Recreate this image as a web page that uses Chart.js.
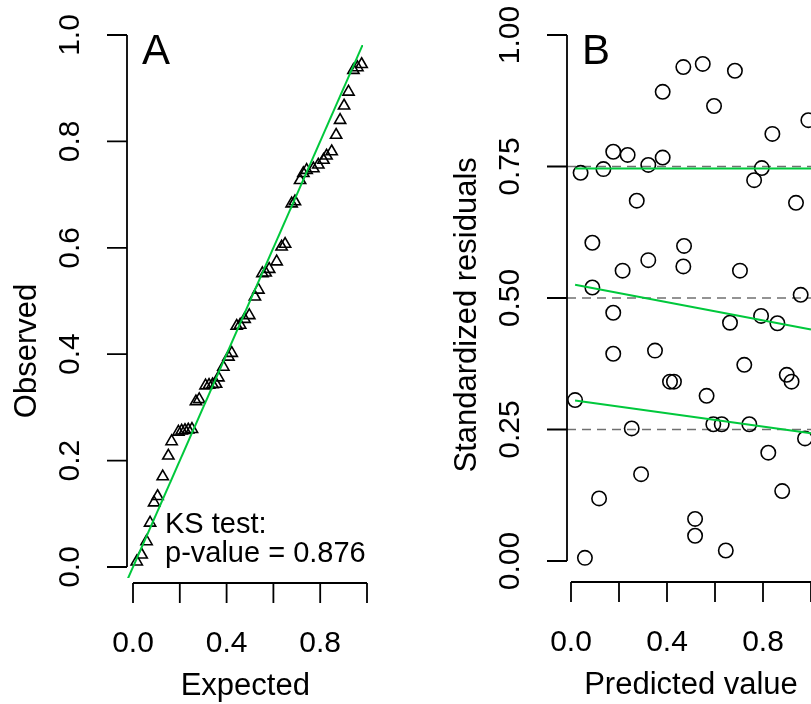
<!DOCTYPE html>
<html>
<head>
<meta charset="utf-8">
<script src="https://cdn.jsdelivr.net/npm/chart.js@4"></script>
<style>
html, body { margin: 0; padding: 0; background: #fff; overflow: hidden; }
#wrap { position: relative; width: 811px; height: 704px; overflow: hidden; }
#chartA { position: absolute; left: 0; top: 0; }
#chartB { position: absolute; left: 440px; top: 0; }
</style>
</head>
<body>
<div id="wrap">
  <canvas id="chartA" width="440" height="704"></canvas>
  <canvas id="chartB" width="400" height="704"></canvas>
</div>
<script>
// Panel A: QQ plot of the scaled residuals
const expected = [0.016,0.037,0.058,0.073,0.090,0.105,0.127,0.151,0.165,0.194,0.208,0.222,0.236,0.252,0.269,0.283,0.310,0.325,0.340,0.355,0.365,0.386,0.408,0.422,0.443,0.458,0.477,0.497,0.521,0.536,0.553,0.567,0.582,0.614,0.635,0.650,0.678,0.692,0.714,0.728,0.742,0.771,0.792,0.814,0.827,0.849,0.868,0.885,0.902,0.921,0.942,0.959,0.977];
const observed = [0.010,0.023,0.048,0.083,0.121,0.133,0.170,0.209,0.236,0.254,0.256,0.257,0.258,0.259,0.311,0.315,0.341,0.342,0.343,0.344,0.356,0.376,0.395,0.402,0.453,0.455,0.466,0.473,0.508,0.521,0.552,0.553,0.560,0.574,0.602,0.607,0.683,0.687,0.727,0.740,0.746,0.749,0.756,0.765,0.773,0.781,0.812,0.840,0.867,0.893,0.934,0.939,0.945];
const ksText = ['KS test:', 'p-value = 0.876'];

// Panel B: residuals against predicted value
const predicted = [0.040,0.135,0.176,0.236,0.322,0.382,0.274,0.382,0.468,0.549,0.683,0.596,0.839,0.989,0.795,0.763,0.9375,0.089,0.471,0.322,0.215,0.468,0.704,0.089,0.957,0.176,0.6625,0.792,0.860,0.176,0.350,0.722,0.899,0.919,0.4125,0.429,0.565,0.017,0.253,0.593,0.628,0.743,0.975,0.822,0.292,0.117,0.880,0.517,0.517,0.645,0.058];
const residuals = [0.738,0.745,0.778,0.772,0.753,0.767,0.685,0.892,0.939,0.945,0.932,0.865,0.812,0.838,0.747,0.724,0.681,0.605,0.599,0.572,0.552,0.560,0.552,0.520,0.506,0.472,0.453,0.466,0.452,0.394,0.400,0.373,0.354,0.341,0.341,0.341,0.314,0.306,0.252,0.260,0.260,0.260,0.233,0.206,0.165,0.119,0.133,0.080,0.048,0.020,0.006];
const quantiles = [0.25, 0.5, 0.75];
// quantile regression lines: value at start and end of predicted range
const qLineX = [0.017, 1.0];
const qLineY = [[0.305, 0.243], [0.525, 0.440], [0.746, 0.746]];

const ticksA = [0, 0.2, 0.4, 0.6, 0.8, 1];
const tickLabelsAy = ['0.0', '0.2', '0.4', '0.6', '0.8', '1.0'];
const ticksAx = [0, 0.2, 0.4, 0.6, 0.8, 1];
const tickLabelsAx = ['0.0', '', '0.4', '', '0.8', ''];
const ticksBy = [0, 0.25, 0.5, 0.75, 1];
const tickLabelsBy = ['0.00', '0.25', '0.50', '0.75', '1.00'];
const ticksBx = [0, 0.2, 0.4, 0.6, 0.8, 1];
const tickLabelsBx = ['0.0', '', '0.4', '', '0.8', ''];

const FONT = '"Liberation Sans", Arial, Helvetica, sans-serif';
const GREEN = '#00c83c';

// base-R look: detached axes, rotated y labels, panel letter
const rAxes = {
  id: 'rAxes',
  afterDraw(chart, args, o) {
    const ctx = chart.ctx, a = chart.chartArea;
    const xs = chart.scales.x, ys = chart.scales.y;
    ctx.save();
    ctx.strokeStyle = '#000';
    ctx.fillStyle = '#000';
    ctx.lineWidth = 1.8;

    const ax = a.left;
    const ay = a.bottom + o.xGap;
    ctx.beginPath();
    ctx.moveTo(ax, ys.getPixelForValue(o.yTicks[0]));
    ctx.lineTo(ax, ys.getPixelForValue(o.yTicks[o.yTicks.length - 1]));
    o.yTicks.forEach(v => {
      const p = ys.getPixelForValue(v);
      ctx.moveTo(ax - 20, p); ctx.lineTo(ax, p);
    });
    ctx.moveTo(xs.getPixelForValue(o.xTicks[0]), ay);
    ctx.lineTo(xs.getPixelForValue(o.xTicks[o.xTicks.length - 1]), ay);
    o.xTicks.forEach(v => {
      const p = xs.getPixelForValue(v);
      ctx.moveTo(p, ay); ctx.lineTo(p, ay + 20);
    });
    ctx.stroke();

    ctx.textAlign = 'center';
    ctx.textBaseline = 'alphabetic';
    ctx.font = '30px ' + FONT;
    o.yTicks.forEach((v, i) => {
      ctx.save();
      ctx.translate(ax - 48, ys.getPixelForValue(v));
      ctx.rotate(-Math.PI / 2);
      ctx.fillText(o.yLabels[i], 0, 0);
      ctx.restore();
    });
    o.xTicks.forEach((v, i) => {
      if (o.xLabels[i]) ctx.fillText(o.xLabels[i], xs.getPixelForValue(v), ay + 69);
    });

    ctx.font = '31px ' + FONT;
    ctx.fillText(o.xTitle, xs.getPixelForValue(o.xTitleAt), ay + 112);
    ctx.save();
    ctx.translate(ax - 91, ys.getPixelForValue(o.yTitleAt));
    ctx.rotate(-Math.PI / 2);
    ctx.fillText(o.yTitle, 0, 0);
    ctx.restore();

    ctx.textAlign = 'left';
    ctx.font = '42px ' + FONT;
    ctx.fillText(o.letter, ax + 15, 64);

    if (o.notes) {
      ctx.font = '29px ' + FONT;
      o.notes.forEach((t, i) => ctx.fillText(t, o.noteX, o.noteY + i * 29));
    }
    ctx.restore();
  }
};

const baseOptions = (pad, xr, yr, axes) => ({
  responsive: false,
  animation: false,
  devicePixelRatio: 1,
  layout: { padding: pad },
  scales: {
    x: { type: 'linear', min: xr[0], max: xr[1], display: false },
    y: { type: 'linear', min: yr[0], max: yr[1], display: false }
  },
  plugins: { legend: { display: false }, tooltip: { enabled: false }, rAxes: axes }
});

new Chart(document.getElementById('chartA'), {
  type: 'scatter',
  data: {
    datasets: [
      {
        data: [{ x: -0.1, y: -0.1 }, { x: 1.1, y: 1.1 }],
        showLine: true, borderColor: GREEN, borderWidth: 2, pointRadius: 0, order: 0
      },
      {
        data: expected.map((x, i) => ({ x: x, y: observed[i] })),
        pointStyle: 'triangle', pointRadius: 6.5, borderWidth: 1.6,
        borderColor: '#000', backgroundColor: 'rgba(0,0,0,0)', clip: false, order: 1
      }
    ]
  },
  options: baseOptions(
    { left: 127, top: 45, right: 77, bottom: 126 },
    [-0.02564, 0.98291], [-0.02068, 0.98120],
    {
      xTicks: ticksAx, xLabels: tickLabelsAx, yTicks: ticksA, yLabels: tickLabelsAy,
      xTitle: 'Expected', xTitleAt: 0.48, yTitle: 'Observed', yTitleAt: 0.406,
      letter: 'A', xGap: 5, notes: ksText, noteX: 165, noteY: 533
    }
  ),
  plugins: [rAxes]
});

const bDatasets = [];
qLineY.forEach(q => bDatasets.push({
  data: [{ x: qLineX[0], y: q[0] }, { x: qLineX[1], y: q[1] }],
  showLine: true, borderColor: GREEN, borderWidth: 2, pointRadius: 0, order: 0
}));
bDatasets.push({
  data: predicted.map((x, i) => ({ x: x, y: residuals[i] })),
  pointStyle: 'circle', pointRadius: 7.2, borderWidth: 1.6,
  borderColor: '#000', backgroundColor: 'rgba(0,0,0,0)', clip: false, order: 1
});
const bxMin = -0.01667, bxMax = 1.04;
quantiles.forEach(q => bDatasets.push({
  data: [{ x: bxMin, y: q }, { x: bxMax, y: q }],
  showLine: true, borderColor: '#707070', borderWidth: 1.6, borderDash: [9, 6],
  pointRadius: 0, order: 2
}));

new Chart(document.getElementById('chartB'), {
  type: 'scatter',
  data: { datasets: bDatasets },
  options: baseOptions(
    { left: 127, top: 14, right: 19.4, bottom: 122 },
    [bxMin, bxMax], [-0.0399, 1.0399],
    {
      xTicks: ticksBx, xLabels: tickLabelsBx, yTicks: ticksBy, yLabels: tickLabelsBy,
      xTitle: 'Predicted value', xTitleAt: 0.5, yTitle: 'Standardized residuals', yTitleAt: 0.468,
      letter: 'B', xGap: 0
    }
  ),
  plugins: [rAxes]
});
</script>
</body>
</html>
